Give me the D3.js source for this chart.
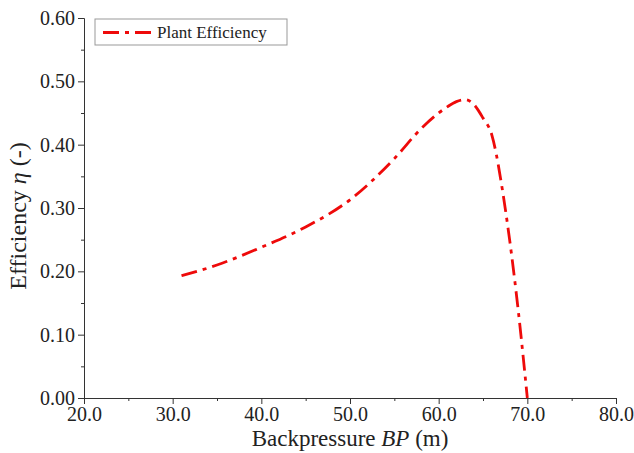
<!DOCTYPE html>
<html>
<head>
<meta charset="utf-8">
<script src="https://cdn.jsdelivr.net/npm/d3@7"></script>
<style>
  body { margin: 0; background: #fff; }
  svg text { font-family: "Liberation Serif", serif; fill: #222; }
</style>
</head>
<body>
<script>
// Chart size
const width = 634;
const height = 453;
const margin = { top: 18, right: 18, bottom: 55, left: 84 };

// Data
const backpressure = [31, 35, 40, 45, 50, 55, 58, 60, 61, 62, 63, 64, 65, 66, 66.5, 67, 68, 69, 70];
const efficiency = [0.193, 0.210, 0.238, 0.270, 0.313, 0.378, 0.425, 0.450, 0.460, 0.468, 0.471, 0.463, 0.442, 0.415, 0.385, 0.345, 0.250, 0.135, 0.0];
const xTicks = [20, 30, 40, 50, 60, 70, 80];
const yTicks = [0, 0.1, 0.2, 0.3, 0.4, 0.5, 0.6];
const seriesName = "Plant Efficiency";

const data = backpressure.map((b, i) => ({ x: b, y: efficiency[i] }));

const svg = d3.select("body")
    .append("svg")
    .attr("width", width)
    .attr("height", height);

// Scales
const x = d3.scaleLinear()
    .domain([20, 80])
    .range([margin.left, width - margin.right]);

const y = d3.scaleLinear()
    .domain([0, 0.6])
    .range([height - margin.bottom, margin.top]);

// Minor ticks (every half step)
svg.append("g")
    .attr("transform", `translate(0,${height - margin.bottom})`)
    .call(d3.axisBottom(x).tickValues(d3.range(25, 80, 10)).tickSize(3).tickFormat(""))
    .call(g => g.select(".domain").remove());

svg.append("g")
    .attr("transform", `translate(${margin.left},0)`)
    .call(d3.axisLeft(y).tickValues(d3.range(0.05, 0.6, 0.1)).tickSize(3).tickFormat(""))
    .call(g => g.select(".domain").remove());

// Major axes
const xAxis = svg.append("g")
    .attr("transform", `translate(0,${height - margin.bottom})`)
    .call(d3.axisBottom(x).tickValues(xTicks).tickSize(6).tickPadding(3).tickFormat(d3.format(".1f")));

const yAxis = svg.append("g")
    .attr("transform", `translate(${margin.left},0)`)
    .call(d3.axisLeft(y).tickValues(yTicks).tickSize(6).tickPadding(3).tickFormat(d3.format(".2f")));

svg.selectAll(".tick line, .domain").attr("stroke", "#333");
xAxis.selectAll("text").style("font-size", "20px").attr("fill", "#222");
yAxis.selectAll("text").style("font-size", "20px").attr("fill", "#222");

// Axis titles
const xTitle = svg.append("text")
    .attr("x", (margin.left + width - margin.right) / 2)
    .attr("y", 446)
    .attr("text-anchor", "middle")
    .style("font-size", "23px");
xTitle.append("tspan").text("Backpressure ");
xTitle.append("tspan").attr("font-style", "italic").text("BP");
xTitle.append("tspan").text(" (m)");

const yTitle = svg.append("text")
    .attr("transform", `translate(26,${(margin.top + height - margin.bottom) / 2 + 8}) rotate(-90)`)
    .attr("text-anchor", "middle")
    .style("font-size", "24px");
yTitle.append("tspan").text("Efficiency ");
yTitle.append("tspan").attr("font-style", "italic").text("η");
yTitle.append("tspan").text(" (-)");

// Curve
const line = d3.line()
    .x(d => x(d.x))
    .y(d => y(d.y))
    .curve(d3.curveMonotoneX);

svg.append("path")
    .datum(data)
    .attr("fill", "none")
    .attr("stroke", "#ee0a0a")
    .attr("stroke-width", 2.8)
    .attr("stroke-dasharray", "16,6,4,6")
    .attr("d", line);

// Legend
const legend = svg.append("g").attr("transform", "translate(95,19)");
legend.append("rect")
    .attr("width", 192)
    .attr("height", 26)
    .attr("fill", "#fff")
    .attr("stroke", "#999");
legend.append("line")
    .attr("x1", 8).attr("x2", 60)
    .attr("y1", 13.5).attr("y2", 13.5)
    .attr("stroke", "#ee0a0a")
    .attr("stroke-width", 2.8)
    .attr("stroke-dasharray", "16,6,4,6");
legend.append("text")
    .attr("x", 62)
    .attr("y", 18.5)
    .style("font-size", "17px")
    .text(seriesName);
</script>
</body>
</html>
